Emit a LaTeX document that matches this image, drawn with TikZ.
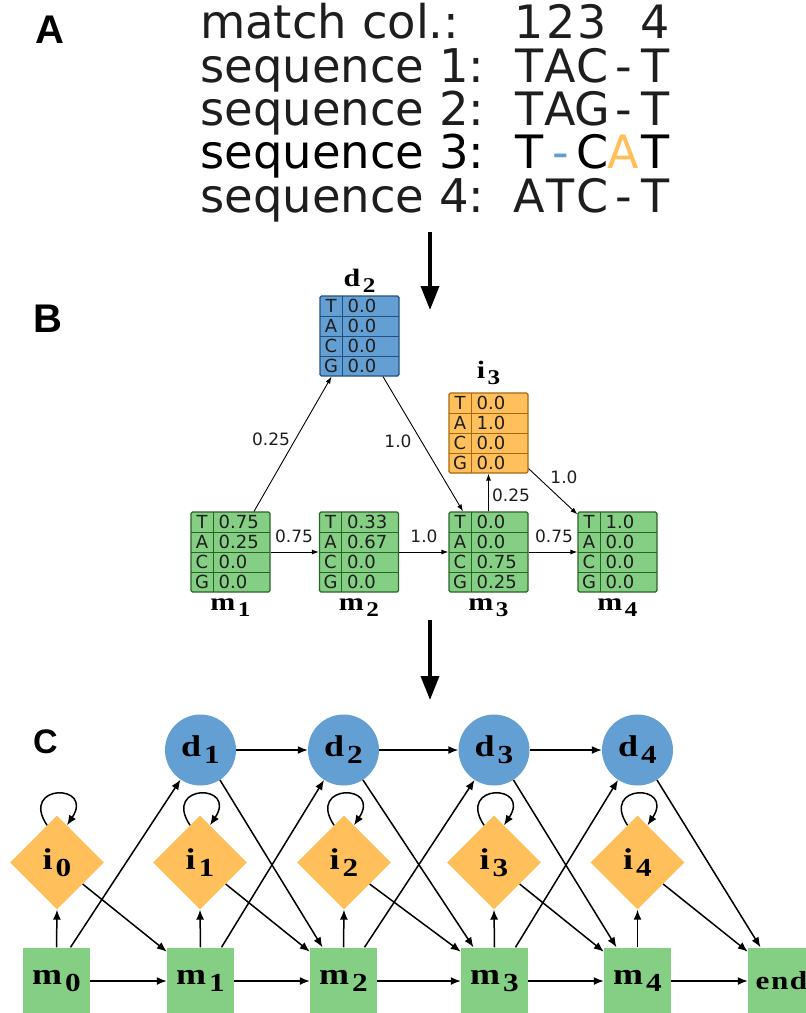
\documentclass[tikz,border=0pt]{standalone}
\usepackage{fontspec}
\setmainfont{DejaVu Sans}
\newfontfamily\labfont[FakeStretch=1.2]{Liberation Serif}
\newfontfamily\panfont{Liberation Sans}
\usetikzlibrary{arrows.meta,shapes.geometric}

\definecolor{mgreen}{RGB}{133,207,133}
\definecolor{mgreenline}{RGB}{40,100,40}
\definecolor{dblue}{RGB}{99,159,211}
\definecolor{dblueline}{RGB}{35,80,125}
\definecolor{iorange}{RGB}{255,192,92}
\definecolor{iorangeline}{RGB}{165,105,15}
\definecolor{inkgray}{RGB}{30,30,30}
\definecolor{gapblue}{RGB}{100,155,210}

% one alignment column of panel A
\newcommand\alcol[1]{\makebox[31.5pt][c]{#1}}
% state labels with a lowered index
\newcommand\blab[2]{{\labfont\bfseries\fontsize{25}{25}\selectfont #1\kern2.5pt\raisebox{-6pt}{\fontsize{21}{21}\selectfont #2}}}
\newcommand\clab[2]{{\labfont\bfseries\fontsize{30}{30}\selectfont #1\kern3pt\raisebox{-7pt}{\fontsize{26}{26}\selectfont #2}}}

% emission table: name, left x, top y, colour style, four probabilities
\newcommand\probtable[8]{%
  \node[tabframe,#4] (#1) at ({#2+39.5},{#3+40}) {};
  \draw[#4,fill=none,line width=1pt]
    (#2,#3+20) -- ++(79,0) (#2,#3+40) -- ++(79,0) (#2,#3+60) -- ++(79,0)
    (#2+22,#3) -- ++(0,80);
  \node[celltxt] (#1-lT) at (#2+11,#3+16.5) {T};
  \node[celltxt] (#1-lA) at (#2+11,#3+36.5) {A};
  \node[celltxt] (#1-lC) at (#2+11,#3+56.5) {C};
  \node[celltxt] (#1-lG) at (#2+11,#3+76.5) {G};
  \node[celltxt,anchor=base west] (#1-vT) at (#2+27.5,#3+16.5) {#5};
  \node[celltxt,anchor=base west] (#1-vA) at (#2+27.5,#3+36.5) {#6};
  \node[celltxt,anchor=base west] (#1-vC) at (#2+27.5,#3+56.5) {#7};
  \node[celltxt,anchor=base west] (#1-vG) at (#2+27.5,#3+76.5) {#8};
}

\begin{document}
\begin{tikzpicture}[x=1pt,y=-1pt,
  panlab/.style={anchor=base west,inner sep=0,font=\panfont\bfseries\fontsize{40}{40}\selectfont},
  seqtxt/.style={anchor=base west,inner sep=0,font=\fontsize{46.5}{46.5}\selectfont,text=inkgray},
  coltxt/.style={anchor=base west,inner sep=0,font=\fontsize{46}{46}\selectfont,text=inkgray},
  bigarrow/.style={line width=3.5pt,-{Triangle[length=24pt,width=18pt]}},
  tabframe/.style={draw,minimum width=79pt,minimum height=80pt,inner sep=0,line width=1.2pt,rounded corners=1.5pt},
  mtab/.style={fill=mgreen,draw=mgreenline},
  dtab/.style={fill=dblue,draw=dblueline},
  itab/.style={fill=iorange,draw=iorangeline},
  celltxt/.style={anchor=base,inner sep=0,font=\fontsize{18}{18}\selectfont,text=inkgray},
  tablab/.style={anchor=base,inner sep=0},
  edgelab/.style={inner sep=0,font=\fontsize{17}{17}\selectfont,text=inkgray},
  probedge/.style={line width=0.9pt,-{Latex[length=7pt,width=5pt]}},
  dstate/.style={circle,fill=dblue,minimum size=71pt,inner sep=0},
  istate/.style={diamond,fill=iorange,minimum width=94pt,minimum height=94pt,inner sep=0},
  mstate/.style={rectangle,fill=mgreen,minimum width=67pt,minimum height=67pt,inner sep=0},
  trans/.style={line width=1.5pt,-{Latex[length=10pt,width=8pt]}}
]
\useasboundingbox (0,0) rectangle (806,1013);

% ---------------- A: multiple alignment ----------------
\node[panlab] (pA) at (35,43) {A};
\node[seqtxt] (h0) at (200,38.7) {match col.:};
\node[coltxt] (h0c) at (513.25,38.7) {\alcol{1}\alcol{2}\alcol{3}\alcol{}\alcol{4}};
\node[seqtxt] (s1) at (200,82) {sequence 1:};
\node[coltxt] (s1c) at (513.25,82) {\alcol{T}\alcol{A}\alcol{C}\alcol{-}\alcol{T}};
\node[seqtxt] (s2) at (200,125.3) {sequence 2:};
\node[coltxt] (s2c) at (513.25,125.3) {\alcol{T}\alcol{A}\alcol{G}\alcol{-}\alcol{T}};
\node[seqtxt,text=black] (s3) at (200,168.6) {sequence 3:};
\node[coltxt,text=black] (s3c) at (513.25,168.6) {\alcol{T}\alcol{\textcolor{gapblue}{-}}\alcol{C}\alcol{\textcolor{iorange}{A}}\alcol{T}};
\node[seqtxt] (s4) at (200,212) {sequence 4:};
\node[coltxt] (s4c) at (513.25,212) {\alcol{A}\alcol{T}\alcol{C}\alcol{-}\alcol{T}};

\coordinate (arAtop) at (430,232);
\coordinate (arAbot) at (430,310);
\draw[bigarrow] (arAtop) -- (arAbot);

% ---------------- B: profile with emission tables ----------------
\node[panlab] (pB) at (33,332) {B};
\probtable{td2}{320}{296}{dtab}{0.0}{0.0}{0.0}{0.0}
\probtable{ti3}{449}{393}{itab}{0.0}{1.0}{0.0}{0.0}
\probtable{tm1}{191}{512}{mtab}{0.75}{0.25}{0.0}{0.0}
\probtable{tm2}{319.5}{512}{mtab}{0.33}{0.67}{0.0}{0.0}
\probtable{tm3}{449}{512}{mtab}{0.0}{0.0}{0.75}{0.25}
\probtable{tm4}{578}{512}{mtab}{1.0}{0.0}{0.0}{0.0}

\node[tablab] (ld2) at (359.5,286) {\blab{d}{2}};
\node[tablab] (li3) at (488.5,378) {\blab{i}{3}};
\node[tablab] (lm1) at (230.5,610) {\blab{m}{1}};
\node[tablab] (lm2) at (359,610) {\blab{m}{2}};
\node[tablab] (lm3) at (488.5,610) {\blab{m}{3}};
\node[tablab] (lm4) at (617.5,610) {\blab{m}{4}};

\draw[probedge] (tm1.east) -- (tm2.west);
\draw[probedge] (tm2.east) -- (tm3.west);
\draw[probedge] (tm3.east) -- (tm4.west);
\draw[probedge] ([xshift=23.5pt]tm1.north) -- ([xshift=-28pt]td2.south);
\draw[probedge] ([xshift=23.5pt]td2.south) -- ([xshift=-25.5pt]tm3.north);
\draw[probedge] (tm3.north) -- (ti3.south);
\draw[probedge] ([yshift=5pt]ti3.south east) -- ([yshift=-3pt]tm4.north west);

\node[edgelab] (e12) at (294,536) {0.75};
\node[edgelab] (e23) at (424,536) {1.0};
\node[edgelab] (e34) at (554,536) {0.75};
\node[edgelab] (e1d) at (271,439) {0.25};
\node[edgelab] (ed3) at (398,441) {1.0};
\node[edgelab] (e3i) at (511,495) {0.25};
\node[edgelab] (ei4) at (564,477) {1.0};

\coordinate (arBtop) at (430,620);
\coordinate (arBbot) at (430,700);
\draw[bigarrow] (arBtop) -- (arBbot);

% ---------------- C: profile HMM state graph ----------------
\node[panlab,font=\panfont\bfseries\fontsize{34}{34}\selectfont] (pC) at (33,753) {C};

\node[dstate] (d1) at (200.5,750) {\clab{d}{1}};
\node[dstate] (d2) at (343.5,750) {\clab{d}{2}};
\node[dstate] (d3) at (494,750) {\clab{d}{3}};
\node[dstate] (d4) at (637.5,750) {\clab{d}{4}};

\node[istate] (i0) at (57,862.5) {\clab{i}{0}};
\node[istate] (i1) at (200,862.5) {\clab{i}{1}};
\node[istate] (i2) at (344,862.5) {\clab{i}{2}};
\node[istate] (i3) at (494,862.5) {\clab{i}{3}};
\node[istate] (i4) at (637.5,862.5) {\clab{i}{4}};

\node[mstate] (m0) at (56.5,981) {\clab{m}{0}};
\node[mstate] (m1) at (200.5,981) {\clab{m}{1}};
\node[mstate] (m2) at (343.5,981) {\clab{m}{2}};
\node[mstate] (m3) at (494.5,981) {\clab{m}{3}};
\node[mstate] (m4) at (637.5,981) {\clab{m}{4}};
\node[mstate] (mend) at (781.5,981) {\labfont\bfseries\fontsize{26}{26}\selectfont e\kern1.5pt n\kern1.5pt d};

% delete chain and match chain
\draw[trans] (d1.east) -- (d2.west);
\draw[trans] (d2.east) -- (d3.west);
\draw[trans] (d3.east) -- (d4.west);
\draw[trans] (m0.east) -- (m1.west);
\draw[trans] (m1.east) -- (m2.west);
\draw[trans] (m2.east) -- (m3.west);
\draw[trans] (m3.east) -- (m4.west);
\draw[trans] (m4.east) -- (mend.west);

% match to insert, insert self loops, insert to next match
\foreach \k/\n in {0/1,1/2,2/3,3/4} {
  \draw[trans] (m\k.north) -- (i\k.south);
  \draw[trans] (i\k.105) .. controls +(-28,-42) and +(28,-42) .. (i\k.75);
  \draw[trans] (i\k.-40) -- (m\n.139);
}
\draw[trans] (m4.north) -- (i4.south);
\draw[trans] (i4.105) .. controls +(-28,-42) and +(28,-42) .. (i4.75);
\draw[trans] (i4.-40) -- (mend.139);

% match to next delete
\draw[trans] ([xshift=14pt]m0.north) -- (d1.236);
\draw[trans] ([xshift=21pt]m1.north) -- (d2.237);
\draw[trans] ([xshift=21pt]m2.north) -- (d3.237);
\draw[trans] ([xshift=21pt]m3.north) -- (d4.237);

% delete to next match
\draw[trans] (d1.303) -- ([xshift=-21pt]m2.north);
\draw[trans] (d2.303) -- ([xshift=-21pt]m3.north);
\draw[trans] (d3.303) -- ([xshift=-21pt]m4.north);
\draw[trans] (d4.303) -- ([xshift=-21pt]mend.north);
\end{tikzpicture}
\end{document}
